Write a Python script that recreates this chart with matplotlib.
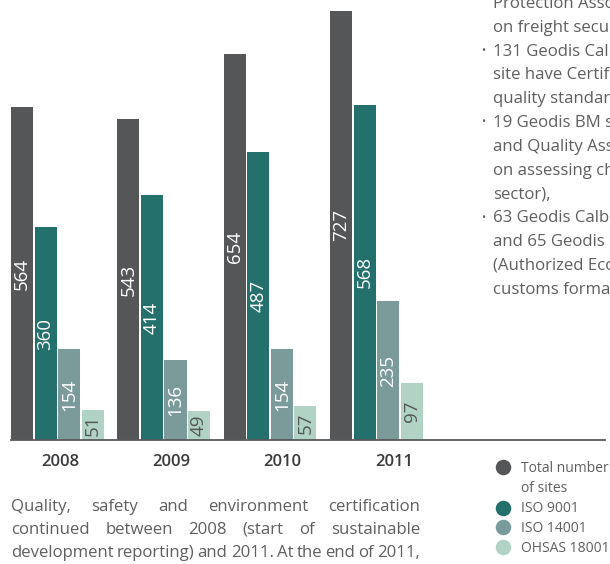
import matplotlib
matplotlib.use("Agg")
import matplotlib.pyplot as plt
import numpy as np

# certified sites per year
years = ["2008", "2009", "2010", "2011"]
series_names = ["Total number\nof sites", "ISO 9001", "ISO 14001", "OHSAS 18001"]
total_sites = [564, 543, 654, 727]
iso_9001 = [360, 414, 487, 568]
iso_14001 = [154, 136, 154, 235]
ohsas_18001 = [51, 49, 57, 97]

colors = ["#555658", "#23706c", "#7b9a9a", "#b1d3c5"]
value_colors = ["white", "white", "white", "#555658"]
text_grey = "#5f5f61"

side_lines = [
    ("", "Protection Association (TAPA)"),
    ("", "on freight security,"),
    ("•", "131 Geodis Calberson"),
    ("", "site have Certified"),
    ("", "quality standards,"),
    ("•", "19 Geodis BM sites"),
    ("", "and Quality Assessment"),
    ("", "on assessing chemical"),
    ("", "sector),"),
    ("•", "63 Geodis Calberson"),
    ("", "and 65 Geodis"),
    ("", "(Authorized Economic"),
    ("", "customs formalities"),
]
para_lines = [
    "Quality, safety and environment certification",
    "continued between 2008 (start of sustainable",
    "development reporting) and 2011. At the end of 2011,",
]

plt.rcParams["font.family"] = ["Open Sans", "DejaVu Sans"]

W, H = 610, 564
fig = plt.figure(figsize=(W / 100, H / 100), dpi=100)

# bar area: baseline at y=440px, from x=11 to x=605
ax = fig.add_axes([11 / W, (H - 440) / H, (605 - 11) / W, 440 / H])
bar_w = 0.207
bar_step = 0.222
x = np.arange(len(years))
for k, vals in enumerate([total_sites, iso_9001, iso_14001, ohsas_18001]):
    pos = x + (k - 1.5) * bar_step
    bars = ax.bar(pos, vals, width=bar_w, color=colors[k], linewidth=0)
    for b, v in zip(bars, vals):
        ax.text(b.get_x() + b.get_width() / 2, v / 2, str(v), rotation=90,
                ha="center", va="center", color=value_colors[k], fontsize=13.5)

ax.set_xlim(-0.436, 5.15)
ax.set_ylim(0, 745)
for s in ["top", "right", "left"]:
    ax.spines[s].set_visible(False)
ax.spines["bottom"].set_color("#58595b")
ax.spines["bottom"].set_linewidth(1.3)
ax.set_yticks([])
ax.set_xticks(x * 1.047 + 0.024)
ax.set_xticklabels(years, fontsize=12, fontweight="semibold", color="#3a3a3c")
ax.tick_params(axis="x", length=0, pad=10)
ax.patch.set_alpha(0)

# overlay in pixel units for the surrounding text and the legend
ov = fig.add_axes([0, 0, 1, 1])
ov.set_xlim(0, W)
ov.set_ylim(H, 0)
ov.axis("off")

for i, (bullet, line) in enumerate(side_lines):
    y = 4 + i * 23.8
    if bullet:
        ov.text(481, y, bullet, fontsize=8, color=text_grey, va="center")
    ov.text(493, y, line, fontsize=12.1, color=text_grey, va="center")

renderer = fig.canvas.get_renderer()


def justify(line, x0, x1, y):
    words = line.split()
    texts = [ov.text(0, y, w, fontsize=12.1, color=text_grey, va="center")
             for w in words]
    widths = [t.get_window_extent(renderer).width for t in texts]
    gap = (x1 - x0 - sum(widths)) / (len(words) - 1)
    pos = x0
    for t, w in zip(texts, widths):
        t.set_x(pos)
        pos += w + gap


for i, line in enumerate(para_lines):
    justify(line, 11, 420, 507 + i * 23)

# legend
legend_y = [467, 508, 527, 547]
for name, c, y in zip(series_names, colors, legend_y):
    ov.scatter([503], [y], s=125, color=c, linewidth=0)
    for j, part in enumerate(name.split("\n")):
        ov.text(521, y + 1 + j * 20, part, fontsize=10, color=text_grey,
                va="center")

fig.savefig("out.png", dpi=100)
